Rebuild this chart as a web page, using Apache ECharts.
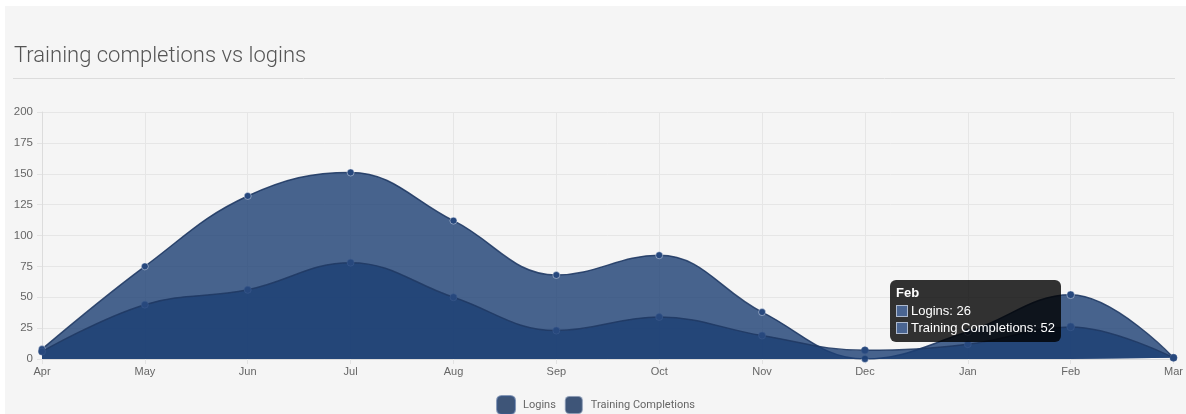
<!DOCTYPE html>
<html>
<head>
<meta charset="utf-8">
<script src="https://cdn.jsdelivr.net/npm/echarts@6/dist/echarts.min.js"></script>
<style>
  html, body { margin: 0; padding: 0; background: #fff; }
  .panel {
    position: absolute; left: 5px; top: 6px;
    width: 1181px; height: 408px;
    background: #f5f5f5;
  }
  #chart { width: 100%; height: 100%; }
</style>
</head>
<body>
<div class="panel"><div id="chart"></div></div>
<script>
// data
const months = ['Apr', 'May', 'Jun', 'Jul', 'Aug', 'Sep', 'Oct', 'Nov', 'Dec', 'Jan', 'Feb', 'Mar'];
const logins = [6, 44, 56, 78, 50, 23, 34, 19, 7, 12, 26, 1];
const trainings = [8, 75, 132, 151, 112, 68, 84, 38, 0, 22, 52, 1];
const seriesNames = ['Logins', 'Training Completions'];
const yTicks = { min: 0, max: 200, interval: 25 };
const tipIndex = 10; // Feb

const fill = 'rgba(28, 62, 115, 0.8)';
const lineCol = 'rgba(32, 58, 100, 0.9)';

// logins sits on top like dataset 0 in the original
function mkSeries(name, data, z, ring) {
  return {
    name: name,
    type: 'line',
    z: z,
    data: data,
    smooth: 0.4,
    symbol: 'circle',
    symbolSize: 7,
    showSymbol: true,
    lineStyle: { color: lineCol, width: 1.5 },
    itemStyle: { color: '#27487d', borderColor: ring, borderWidth: 1 },
    areaStyle: { color: fill, opacity: 1, origin: 'start' },
    emphasis: { disabled: true }
  };
}

const chart = echarts.init(document.getElementById('chart'));
chart.setOption({
  animation: false,
  title: {
    text: 'Training completions vs logins',
    left: 4, top: 34,
    textStyle: { fontFamily: 'Roboto', fontWeight: 300, fontSize: 22, color: '#555' }
  },
  graphic: [{
    type: 'line',
    shape: { x1: 8, y1: 72.5, x2: 1170, y2: 72.5 },
    style: { stroke: '#dcdcdc', lineWidth: 1 }
  }],
  grid: { left: 37, right: 11, top: 106, bottom: 55 },
  legend: {
    left: 'center', top: 384,
    itemWidth: 18, itemHeight: 18, itemGap: 8,
    icon: 'roundRect',
    textStyle: { fontFamily: 'Roboto', fontSize: 11, color: '#666', padding: [0, 0, 0, 3] },
    data: seriesNames.map(n => ({ name: n, itemStyle: { color: '#3e5578' } }))
  },
  tooltip: {
    trigger: 'axis',
    alwaysShowContent: true,
    transitionDuration: 0,
    axisPointer: { type: 'none' },
    backgroundColor: 'rgba(0,0,0,0.8)',
    borderWidth: 0,
    padding: [5, 6, 6, 6],
    extraCssText: 'border-radius:6px;box-shadow:none;',
    textStyle: { color: '#fff', fontFamily: 'Arial, Liberation Sans', fontSize: 13 },
    formatter: function (params) {
      const sw = '<span style="display:inline-block;width:12px;height:12px;background:#4a6592;' +
        'border:1px solid rgba(255,255,255,0.55);vertical-align:-2px;margin-right:3px;box-sizing:border-box"></span>';
      let html = '<div style="font-weight:bold;line-height:15px;margin-bottom:2px">' + params[0].axisValue + '</div>';
      params.forEach(function (p) {
        html += '<div style="line-height:17px">' + sw + p.seriesName + ': ' + p.value + '</div>';
      });
      return html;
    },
    position: function (point, params, dom, rect, size) {
      const a = chart.convertToPixel({ gridIndex: 0 }, [tipIndex, logins[tipIndex]]);
      const b = chart.convertToPixel({ gridIndex: 0 }, [tipIndex, trainings[tipIndex]]);
      const w = size.contentSize[0], h = size.contentSize[1];
      return [a[0] - w - 10, (a[1] + b[1]) / 2 - h / 2];
    }
  },
  xAxis: {
    type: 'category',
    data: months,
    boundaryGap: false,
    axisLine: { lineStyle: { color: '#dcdcdc' } },
    axisTick: { show: true, length: 5, lineStyle: { color: '#e3e3e3' } },
    axisLabel: { color: '#666', fontFamily: 'Arial, Liberation Sans', fontSize: 11, margin: 7 },
    splitLine: { show: true, lineStyle: { color: '#e6e6e6' } }
  },
  yAxis: {
    type: 'value',
    min: yTicks.min, max: yTicks.max, interval: yTicks.interval,
    axisLine: { show: true, lineStyle: { color: '#dcdcdc' } },
    axisTick: { show: true, length: 5, lineStyle: { color: '#e3e3e3' } },
    axisLabel: { color: '#666', fontFamily: 'Arial, Liberation Sans', fontSize: 11.5, margin: 9 },
    splitLine: { show: true, lineStyle: { color: '#e6e6e6' } }
  },
  series: [
    mkSeries(seriesNames[0], logins, 3, 'rgba(60,90,140,0.6)'),
    mkSeries(seriesNames[1], trainings, 2, 'rgba(235,240,248,0.45)')
  ]
});
chart.dispatchAction({ type: 'showTip', seriesIndex: 1, dataIndex: tipIndex });
</script>
</body>
</html>
